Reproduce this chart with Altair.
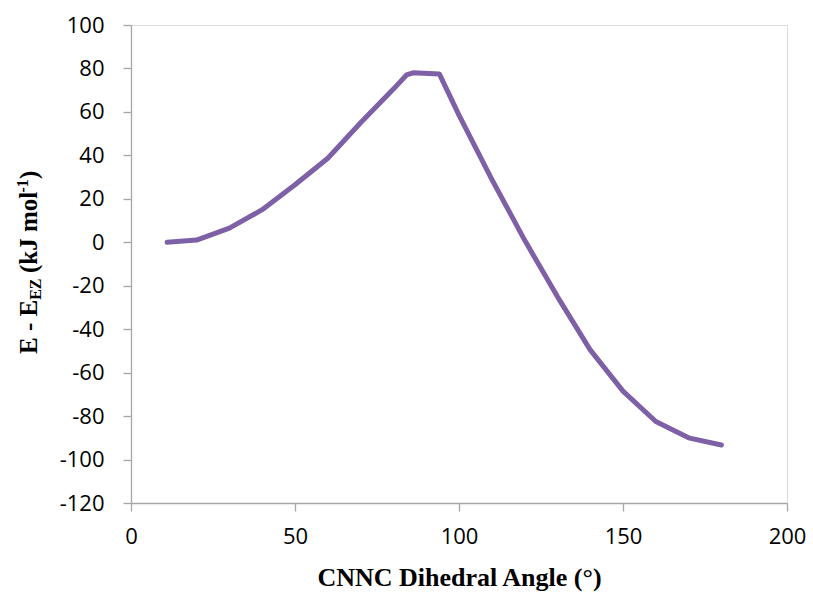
import altair as alt
import pandas as pd

angle = [11, 20, 30, 40, 50, 60, 70, 80, 84, 86, 94, 100, 110, 120, 130, 140, 150, 160, 170, 180]
energy = [0, 1, 6.5, 15, 26.5, 38.7, 55, 70.5, 77, 78, 77.5, 58.5, 29, 1, -25, -49.5, -68.5, -82.5, -90, -93.3]

x_ticks = [0, 50, 100, 150, 200]
y_ticks = [-120, -100, -80, -60, -40, -20, 0, 20, 40, 60, 80, 100]

df = pd.DataFrame({"angle": angle, "energy": energy})

AXIS_GREY = "#A6A6A6"
LINE_COLOR = "#7D60A6"

line = alt.Chart(df).mark_line(color=LINE_COLOR, strokeWidth=5, strokeJoin="round", strokeCap="round").encode(
    x=alt.X("angle:Q", scale=alt.Scale(domain=[0, 200], nice=False, zero=False),
            axis=alt.Axis(values=x_ticks, title="CNNC Dihedral Angle (°)", grid=False,
                          domainColor=AXIS_GREY, domainWidth=1.3, tickColor=AXIS_GREY, tickWidth=1.3,
                          tickSize=8, labelPadding=15, labelFont="Open Sans", labelFontSize=22,
                          labelColor="#000000", titleFont="Liberation Serif", titleFontSize=26,
                          titleFontWeight="bold", titleColor="#000000", titlePadding=17,
                          labelFlush=False, labelExpr="'' + datum.value")),
    y=alt.Y("energy:Q", scale=alt.Scale(domain=[-120, 100], nice=False, zero=False),
            axis=alt.Axis(values=y_ticks, title=None, grid=False,
                          domainColor=AXIS_GREY, domainWidth=1.3, tickColor=AXIS_GREY, tickWidth=1.3,
                          tickSize=8, labelPadding=19, labelFont="Open Sans", labelFontSize=22,
                          labelColor="#000000", labelFlush=False, labelExpr="'' + datum.value")),
)

# y-axis title with subscript / superscript pieces
title_parts = ["E - E", "EZ", "(kJ mol", "-1", ")"]
title_sizes = [25, 16, 25, 16, 25]
title_x = [-94, -90, -94, -103, -94]
title_y = [329, 274.8, 248, 167.5, 154]

title_layers = []
for t, s, xx, yy in zip(title_parts, title_sizes, title_x, title_y):
    title_layers.append(
        alt.Chart(pd.DataFrame({"t": [t]})).mark_text(
            angle=270, align="left", baseline="alphabetic", font="Liberation Serif",
            fontWeight="bold", fontSize=s, color="#000000"
        ).encode(text="t:N", x=alt.value(xx), y=alt.value(yy))
    )

chart = alt.layer(line, *title_layers).properties(
    width=656, height=478,
    autosize=alt.AutoSizeParams(type="none"),
    padding={"left": 131, "top": 25, "right": 26, "bottom": 91},
).configure_view(stroke=None).configure(background="white")

chart.save("out.html", embed_options={"renderer": "svg", "actions": False})
